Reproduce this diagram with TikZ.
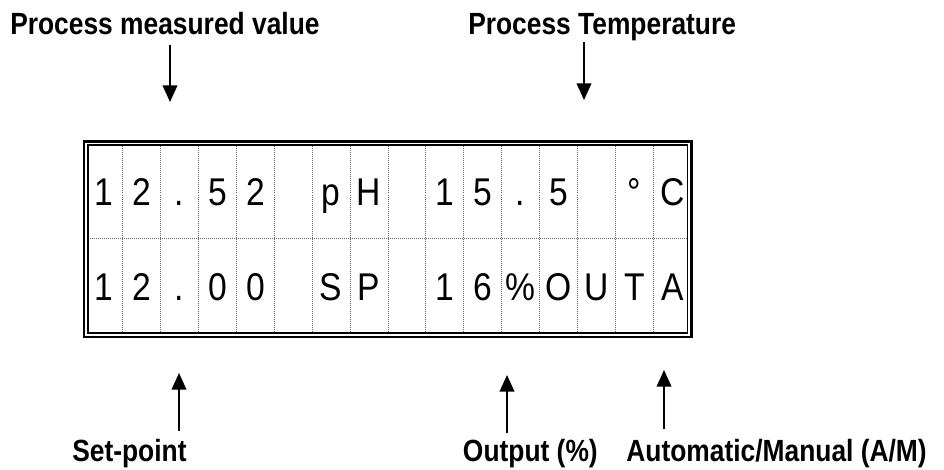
\documentclass[tikz,border=0pt]{standalone}
\usepackage{fontspec}
\setmainfont{Liberation Sans}
\newfontfamily\lblfont[FakeStretch=0.86]{Liberation Sans}
\newfontfamily\lcdfont[FakeStretch=0.87]{Liberation Sans}
\usetikzlibrary{arrows.meta}
\tikzset{
  lbl/.style={inner sep=0pt, font=\lblfont\bfseries\fontsize{23}{26}\selectfont},
  lcd/.style={inner sep=0pt, anchor=base, font=\lcdfont\fontsize{29}{33}\selectfont},
  gridline/.style={draw=black!60, line width=0.75pt, dash pattern=on 0.75pt off 0.75pt},
  frameouter/.style={draw=black, line width=1.9pt},
  frameinner/.style={draw=black, line width=1.3pt},
  pointer/.style={draw=black, line width=1.3pt, -{Triangle[length=12.5pt,width=11pt]}}
}
\begin{document}
\begin{tikzpicture}[x=0.75pt,y=-0.75pt]
\useasboundingbox (0,0) rectangle (944,470);
% grid
\foreach \k in {1,...,15}{
  \draw[gridline] ({84.8+37.9*\k},144.5) -- ({84.8+37.9*\k},333.3);
}
\draw[gridline] (87.8,238) -- (687.7,238);
% frame
\draw[frameouter] (84,141.3) rectangle (691.3,337);
\draw[frameinner] (88,144.8) rectangle (687.6,333.2);
% characters
\foreach \c [count=\k] in {1,2,.,5,2,{},p,H,{},1,5,.,5,{},°,C}{
  \node[lcd] (ra\k) at ({84.8+37.9*(\k-0.5)},205) {\c};
}
\foreach \c [count=\k] in {1,2,.,0,0,{},S,P,{},1,6,\%,O,U,T,A}{
  \node[lcd] (rb\k) at ({84.8+37.9*(\k-0.5)},300) {\c};
}
% labels
\node[lbl, anchor=base west] (pmv) at (10,35) {Process measured value};
\node[lbl, anchor=base west] (pt) at (468,35) {Process Temperature};
\node[lbl, anchor=base west] (sp) at (72,461) {Set-point};
\node[lbl, anchor=base east] (out) at (598,461) {Output (\%)};
\node[lbl, anchor=base east] (am) at (927,461) {Automatic/Manual (A/M)};
% arrows
\coordinate (pmvS) at (170,45);
\coordinate (pmvE) at (170,102);
\coordinate (ptS) at (584,42);
\coordinate (ptE) at (584,100);
\coordinate (spS) at (179,431);
\coordinate (spE) at (179,373);
\coordinate (outS) at (507,433);
\coordinate (outE) at (507,375);
\coordinate (amS) at (664,429);
\coordinate (amE) at (664,370);
\draw[pointer] (pmvS) -- (pmvE);
\draw[pointer] (ptS) -- (ptE);
\draw[pointer] (spS) -- (spE);
\draw[pointer] (outS) -- (outE);
\draw[pointer] (amS) -- (amE);
\end{tikzpicture}
\end{document}
